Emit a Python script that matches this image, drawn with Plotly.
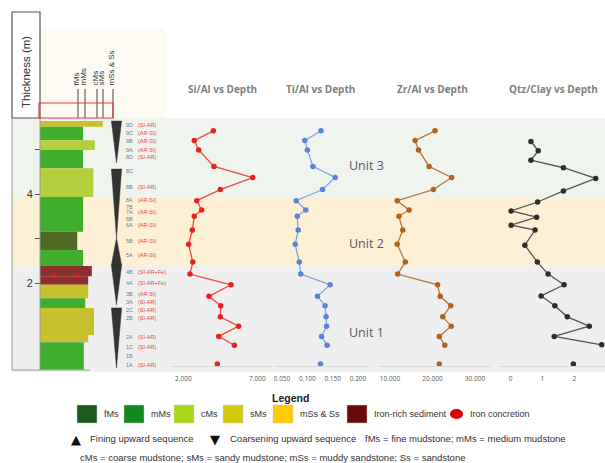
import plotly.graph_objects as go

W, H = 605, 463

# ---------------- data ----------------
# geochemistry (depth in m)
depth_geo = [5.42, 5.20, 4.99, 4.62, 4.37, 4.10, 3.85, 3.64, 3.50, 3.19, 2.87,
             2.47, 2.20, 1.96, 1.70, 1.49, 1.24, 1.03, 0.80, 0.60, 0.18]
si_al = [4.03, 2.74, 3.04, 4.07, 6.69, 4.50, 2.91, 3.24, 2.74, 2.61, 2.36,
         2.64, 2.45, 5.22, 3.74, 4.53, 4.50, 5.74, 4.39, 5.45, 4.30]
ti_al = [0.127, 0.095, 0.100, 0.111, 0.155, 0.130, 0.078, 0.097, 0.080, 0.082, 0.076,
         0.084, 0.087, 0.145, 0.120, 0.135, 0.137, 0.138, 0.128, 0.139, 0.126]
zr_al = [20.6, 15.9, 16.7, 19.2, 24.5, 20.2, 11.7, 14.5, 12.1, 13.0, 11.7,
         13.6, 11.8, 21.2, 21.8, 24.3, 22.4, 24.4, 21.6, 22.9, 21.6]
depth_qtz = [5.18, 4.97, 4.76, 4.59, 4.35, 4.07, 3.82, 3.62, 3.48, 3.30, 3.19,
             2.85, 2.47, 2.20, 1.96, 1.71, 1.49, 1.24, 1.03, 0.80, 0.61, 0.18]
qtz_clay = [0.64, 0.87, 0.64, 1.66, 2.67, 1.66, 0.85, 0.02, 0.82, 0.02, 0.77,
            0.45, 0.84, 1.18, 1.68, 0.96, 1.39, 1.78, 2.47, 1.37, 2.86, 1.97]

panel_titles = ["Si/Al vs Depth", "Ti/Al vs Depth", "Zr/Al vs Depth", "Qtz/Clay vs Depth"]
si_ticks = [2, 7]
ti_ticks = [0.05, 0.10, 0.15, 0.20]
zr_ticks = [10, 20, 30]
qtz_ticks = [0, 1, 2]

# units
unit_names = ["Unit 1", "Unit 2", "Unit 3"]
unit_bounds = [0.0, 2.40, 3.93, 5.71]
unit_label_depth = [0.88, 2.88, 4.65]

# depth axis ticks
depth_ticks = [2, 3, 4, 5]
depth_ticktext = ["2", "", "4", ""]

# samples
sample_ids = ["9D", "9C", "9B", "9A", "8D", "8C", "8B", "8A", "7B", "7A", "6B", "6A",
              "5B", "5A", "4B", "4A", "3B", "3A", "2C", "2B", "2A", "1C", "1B", "1A"]
sample_tags = ["(SI-AR)", "(AR-SI)", "(AR-SI)", "(AR-SI)", "(SI-AR)", "", "(SI-AR)", "(AR-SI)",
               "", "(AR-SI)", "", "(AR-SI)", "(AR-SI)", "(AR-SI)", "(SI-AR+Fe)", "(SI-AR+Fe)",
               "(AR-SI)", "(SI-AR)", "(SI-AR)", "(SI-AR)", "(SI-AR)", "(SI-AR)", "", "(SI-AR)"]
sample_depth = [5.55, 5.37, 5.19, 4.99, 4.83, 4.52, 4.16, 3.87, 3.71, 3.60, 3.44, 3.30,
                2.94, 2.63, 2.25, 2.00, 1.75, 1.57, 1.39, 1.21, 0.79, 0.56, 0.36, 0.16]

# lithology log
lith_class = ["sMs", "mMs", "cMs", "mMs", "cMs", "mMs", "fMs", "mMs", "Fe", "Fe",
              "sMs", "mMs", "sMs", "sMs", "mMs"]
lith_top = [5.64, 5.51, 5.21, 4.99, 4.58, 3.93, 3.15, 2.74, 2.38, 2.15,
            1.96, 1.66, 1.44, 0.83, 0.67]
lith_base = [5.51, 5.21, 4.99, 4.58, 3.93, 3.15, 2.74, 2.38, 2.15, 1.96,
             1.66, 1.44, 0.83, 0.67, 0.05]
lith_width = [8.6, 5.9, 7.5, 5.9, 7.3, 5.9, 5.1, 5.9, 7.1, 6.6,
              6.6, 6.2, 7.4, 6.6, 6.0]
concretion_x = [1.9, 5.1]
concretion_depth = [2.16, 2.16]

# sequences
seq_top = [5.64, 4.56, 3.01, 2.40, 1.44]
seq_base = [4.70, 3.01, 2.40, 1.51, 0.09]
seq_kind = ["coarsening", "coarsening", "fining", "coarsening", "coarsening"]

grain_classes = ["fMs", "mMs", "cMs", "sMs", "mSs & Ss"]

legend_items = ["fMs", "mMs", "cMs", "sMs", "mSs & Ss", "Iron-rich sediment"]
legend_keys = ["fMs", "mMs", "cMs", "sMs", "mSs", "Fe"]
legend_row2 = ["Fining upward sequence", "Coarsening upward sequence",
               "fMs = fine mudstone; mMs = medium mudstone"]
legend_row3 = "cMs = coarse mudstone; sMs = sandy mudstone; mSs = muddy sandstone; Ss = sandstone"

# ---------------- styling ----------------
col_colors = {"fMs": "#4e6a25", "mMs": "#3fae2e", "cMs": "#b2cf3c", "sMs": "#c9c02e", "Fe": "#8e2f2f"}
leg_colors = {"fMs": "#1d5a1d", "mMs": "#12891c", "cMs": "#a9d719", "sMs": "#d6c80c",
              "mSs": "#ffcc00", "Fe": "#6a0a0a"}
unit_colors = ["#efefef", "#fdf0d4", "#eff4ee"]


def px(x):
    return x / W


def py(y):
    return 1 - y / H


PX_PER_M = 44.5
Y_TOP, Y_BOT = 118, 372


def axis_range(dom, ref_px, ref_val, ppu):
    return [ref_val - (ref_px - dom[0]) / ppu, ref_val + (dom[1] - ref_px) / ppu]


fig = go.Figure()

# lithology bars
fig.add_trace(go.Bar(
    orientation="h",
    y=[(t + b) / 2 for t, b in zip(lith_top, lith_base)],
    x=lith_width,
    width=[t - b for t, b in zip(lith_top, lith_base)],
    base=0,
    marker=dict(color=[col_colors[c] for c in lith_class], line=dict(width=0)),
    xaxis="x5", yaxis="y", showlegend=False, hoverinfo="skip"))

fig.add_trace(go.Scatter(
    x=concretion_x, y=concretion_depth, mode="markers",
    marker=dict(color="#e8201c", size=4, line=dict(width=0)),
    xaxis="x5", yaxis="y", showlegend=False, hoverinfo="skip"))

# sequence wedges
WC, WH = 10.48, 0.70
wx, wy = [], []
for t, b, k in zip(seq_top, seq_base, seq_kind):
    if k == "coarsening":
        wx += [WC - WH, WC + WH, WC, WC - WH, None]
        wy += [t, t, b, t, None]
    else:
        wx += [WC, WC + WH, WC - WH, WC, None]
        wy += [t, b, b, t, None]
fig.add_trace(go.Scatter(
    x=wx, y=wy, mode="lines", fill="toself", fillcolor="#333333",
    line=dict(color="#333333", width=0.5),
    xaxis="x5", yaxis="y", showlegend=False, hoverinfo="skip"))

# geochem series
series = [
    (si_al, depth_geo, "x", "#f04848", "#e8231e"),
    (ti_al, depth_geo, "x2", "#84a6e2", "#5b84d6"),
    (zr_al, depth_geo, "x3", "#b87a40", "#b0621f"),
    (qtz_clay, depth_qtz, "x4", "#555555", "#2e2e2e"),
]
for vals, dep, xa, lc, mc in series:
    fig.add_trace(go.Scatter(
        x=vals[:-1], y=dep[:-1], mode="lines+markers",
        line=dict(color=lc, width=1.3),
        marker=dict(color=mc, size=5.5),
        xaxis=xa, yaxis="y", showlegend=False, hoverinfo="skip", cliponaxis=False))
    fig.add_trace(go.Scatter(
        x=vals[-1:], y=dep[-1:], mode="markers",
        marker=dict(color=mc, size=5.5),
        xaxis=xa, yaxis="y", showlegend=False, hoverinfo="skip"))

# axes
tickfont = dict(family="Open Sans", size=6.5, color="#595959")
axpos = py(366)


def geo_axis(dom, ref_px, ref_val, ppu, tv, fmt):
    return dict(domain=[px(dom[0]), px(dom[1])],
                range=axis_range(dom, ref_px, ref_val, ppu),
                anchor="free", position=axpos,
                showline=True, linecolor="#d9d9d9", linewidth=1,
                showgrid=False, zeroline=False,
                tickvals=tv, tickformat=fmt, ticks="outside", ticklen=6,
                tickcolor="rgba(0,0,0,0)", tickfont=tickfont)


layout = dict(
    width=W, height=H,
    margin=dict(l=0, r=0, t=0, b=0),
    paper_bgcolor="white", plot_bgcolor="rgba(0,0,0,0)",
    showlegend=False, barmode="overlay",
    xaxis=geo_axis((172, 272), 183.3, 2, 14.8, si_ticks, ".3f"),
    xaxis2=geo_axis((275, 367), 282, 0.05, 506.7, ti_ticks, ".3f"),
    xaxis3=geo_axis((378, 490), 390, 10, 4.25, zr_ticks, ".3f"),
    xaxis4=geo_axis((500, 605), 510.5, 0, 31.9, qtz_ticks, "d"),
    xaxis5=dict(domain=[px(40), px(125)], range=[0, 85 / 7.3], anchor="y", visible=False),
    yaxis=dict(domain=[py(Y_BOT), py(Y_TOP)], range=[0, (Y_BOT - Y_TOP) / PX_PER_M],
               anchor="free", position=px(40), side="left",
               tickvals=depth_ticks, ticktext=depth_ticktext,
               ticks="outside", ticklen=5, tickcolor="#555", tickwidth=1,
               tickfont=dict(family="Liberation Sans", size=11, color="#333"),
               showgrid=False, zeroline=False, showline=False),
)
fig.update_layout(**layout)

shapes = []
# unit bands
for i in range(3):
    shapes.append(dict(type="rect", xref="paper", yref="y", x0=px(12), x1=1,
                       y0=unit_bounds[i], y1=unit_bounds[i + 1],
                       fillcolor=unit_colors[i], line=dict(width=0), layer="below"))
# header tint
shapes.append(dict(type="rect", xref="paper", yref="paper", x0=px(40), x1=px(165),
                   y0=py(118), y1=py(28), fillcolor="#fcfaf3", line=dict(width=0), layer="below"))
# thickness box
shapes.append(dict(type="rect", xref="paper", yref="paper", x0=px(12), x1=px(40),
                   y0=py(118), y1=py(12), line=dict(color="#555", width=1.2)))
# column frame
for x0, y0, x1, y1 in [(12, 118, 12, 370), (40, 118, 40, 370), (12, 370, 90, 370)]:
    shapes.append(dict(type="line", xref="paper", yref="paper", x0=px(x0), x1=px(x1),
                       y0=py(y0), y1=py(y1), line=dict(color="#9a9a9a", width=1)))
# grain header lines
grain_px = [78, 85, 97, 103, 113]
for gx in grain_px:
    shapes.append(dict(type="line", xref="paper", yref="paper", x0=px(gx), x1=px(gx),
                       y0=py(89), y1=py(118), line=dict(color="#444", width=1)))
shapes.append(dict(type="rect", xref="paper", yref="paper", x0=px(39), x1=px(113),
                   y0=py(118), y1=py(103), line=dict(color="#e83a3a", width=1.2)))
# legend swatches
sw_left = [77, 124, 174, 223, 273, 347]
for key, sl in zip(legend_keys, sw_left):
    shapes.append(dict(type="rect", xref="paper", yref="paper", x0=px(sl), x1=px(sl + 20),
                       y0=py(423), y1=py(405), fillcolor=leg_colors[key],
                       line=dict(color="#cccccc", width=0.5)))
shapes.append(dict(type="circle", xref="paper", yref="paper", x0=px(450), x1=px(463),
                   y0=py(419), y1=py(409), fillcolor="#e00000", line=dict(width=0)))
fig.update_layout(shapes=shapes)

ann = []


def A(text, x, y, yref="paper", xanchor="center", yanchor="middle", **kw):
    d = dict(text=text, x=px(x), y=(py(y) if yref == "paper" else y), xref="paper", yref=yref,
             xanchor=xanchor, yanchor=yanchor, showarrow=False)
    d.update(kw)
    ann.append(d)


title_x = [222, 320, 432, 553]
for t, tx in zip(panel_titles, title_x):
    A(f"<b>{t}</b>", tx, 89, font=dict(family="Open Sans", size=10, color="#7f7f7f"))
for n, d in zip(unit_names, unit_label_depth):
    A(n, 366, d, yref="y", font=dict(family="Open Sans", size=12.5, color="#595959"))
for sid, tag, d in zip(sample_ids, sample_tags, sample_depth):
    A(sid, 124, d, yref="y", xanchor="left",
      font=dict(family="Liberation Sans", size=5.5, color="#777"))
    if tag:
        A(tag, 136, d, yref="y", xanchor="left",
          font=dict(family="Liberation Sans", size=5.5, color="#e8463c"))
grain_lbl_x = [76, 83, 95, 101, 111]
for g, gx in zip(grain_classes, grain_lbl_x):
    A(g, gx, 88, yanchor="bottom", textangle=-90,
      font=dict(family="Liberation Sans", size=8, color="#333"))
A("Thickness (m)", 26, 72, textangle=-90,
  font=dict(family="Liberation Sans", size=11.5, color="#333"))
# legend
lfont = dict(family="Liberation Sans", size=9, color="#333")
rfont = dict(family="Liberation Sans", size=9.5, color="#333")
A("<b>Legend</b>", 290, 398, font=dict(family="Liberation Sans", size=10.5, color="#222"))
for lbl, sl in zip(legend_items, sw_left):
    A(lbl, sl + 25, 414, xanchor="left", font=lfont)
A("Iron concretion", 468, 414, xanchor="left", font=lfont)
A("▲", 76, 439, font=dict(family="DejaVu Sans", size=13, color="#111"))
A("▼", 215, 439, font=dict(family="DejaVu Sans", size=13, color="#111"))
for t, lx in zip(legend_row2, [88, 228, 363]):
    A(t, lx, 438, xanchor="left", font=rfont)
A(legend_row3, 78, 457, xanchor="left", font=rfont)
fig.update_layout(annotations=ann)

fig.write_html("out.html",
               config={"displayModeBar": False},
               post_script="document.body.style.margin='0';document.body.style.overflow='hidden';")
